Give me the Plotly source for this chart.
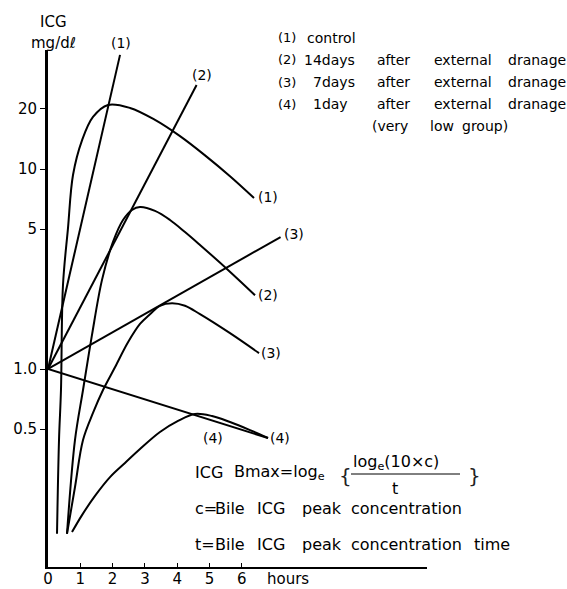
import math
import plotly.graph_objects as go

# ---------------- data (hours, ICG mg/dl) ----------------
# smooth measured curves
c1_x = [0.279, 0.341, 0.402, 0.464, 0.619, 0.774, 1.053, 1.393, 1.858, 2.539, 3.313, 4.087, 4.861, 5.635, 6.378]
c1_y = [0.150, 0.442, 0.785, 2.63, 5.06, 9.33, 13.9, 18.2, 20.9, 20.2, 17.6, 14.6, 11.7, 9.2, 7.16]

c2_x = [0.588, 0.836, 1.084, 1.362, 1.672, 2.012, 2.322, 2.601, 2.848, 3.313, 3.777, 4.241, 4.706, 5.573, 6.409]
c2_y = [0.150, 0.442, 0.785, 1.48, 2.79, 4.32, 5.56, 6.24, 6.45, 6.17, 5.56, 4.84, 4.17, 3.13, 2.34]

c3_x = [0.588, 0.836, 1.084, 1.393, 1.703, 2.074, 2.477, 2.848, 3.158, 3.467, 3.839, 4.241, 4.706, 5.635, 6.533]
c3_y = [0.150, 0.257, 0.442, 0.603, 0.785, 1.02, 1.36, 1.68, 1.88, 2.07, 2.13, 2.07, 1.88, 1.51, 1.20]

c4_x = [0.743, 1.053, 1.455, 1.920, 2.384, 2.848, 3.467, 4.025, 4.551, 5.077, 5.635, 6.254, 6.811]
c4_y = [0.153, 0.186, 0.232, 0.288, 0.339, 0.398, 0.484, 0.550, 0.596, 0.582, 0.543, 0.495, 0.452]

# straight (exponential) lines from 1.0 at time 0
l1_x = [0, 2.23]
l1_y = [1.0, 37.2]
l2_x = [0, 4.6]
l2_y = [1.0, 26.3]
l3_x = [0, 7.2]
l3_y = [1.0, 4.57]
l4_x = [0, 6.811]
l4_y = [1.0, 0.452]

x_ticks = [0, 1, 2, 3, 4, 5, 6]
x_tick_text = ["0", "1", "2", "3", "4", "5", "6"]
y_ticks = [0.5, 1.0, 5, 10, 20]
y_tick_text = ["0.5", "1.0", "5", "10", "20"]

# ---------------- layout geometry ----------------
W, H = 567, 589
L, R, T, B = 48, 140, 50, 22
PW, PH = W - L - R, H - T - B
FONT = "DejaVu Sans"


def P(xp, yp):
    """pixel position -> paper coordinates"""
    return (xp - L) / PW, (H - B - yp) / PH


fig = go.Figure()

for xs, ys, shape in [
    (c1_x, c1_y, "spline"), (c2_x, c2_y, "spline"),
    (c3_x, c3_y, "spline"), (c4_x, c4_y, "spline"),
    (l1_x, l1_y, "linear"), (l2_x, l2_y, "linear"),
    (l3_x, l3_y, "linear"), (l4_x, l4_y, "linear"),
]:
    fig.add_trace(go.Scatter(
        x=xs, y=ys, mode="lines",
        line=dict(color="black", width=2, shape=shape, smoothing=1.0),
        showlegend=False, hoverinfo="skip", cliponaxis=False,
    ))

ann = []


def txt(s, xp, yp, size=16, anchor="left", yanchor="middle", color="black"):
    px, py = P(xp, yp)
    ann.append(dict(text=s, x=px, y=py, xref="paper", yref="paper",
                    xanchor=anchor, yanchor=yanchor, showarrow=False,
                    font=dict(family=FONT, size=size, color=color)))


# curve labels (attached to line ends, in data coordinates)
def dlabel(s, x, y, xanchor, xshift=0, yshift=0, size=14):
    ann.append(dict(text=s, x=x, y=math.log10(y), xref="x", yref="y",
                    xanchor=xanchor, yanchor="middle", showarrow=False,
                    xshift=xshift, yshift=yshift,
                    font=dict(family=FONT, size=size, color="black")))


dlabel("(1)", l1_x[-1], l1_y[-1], "center", 1, 12)
dlabel("(2)", l2_x[-1], l2_y[-1], "center", 5, 10)
dlabel("(3)", l3_x[-1], l3_y[-1], "left", 1, 3)
dlabel("(4)", l4_x[-1], l4_y[-1], "left", 0, 0)
dlabel("(1)", c1_x[-1], c1_y[-1], "left", 2, 1)
dlabel("(2)", c2_x[-1], c2_y[-1], "left", 1, 0)
dlabel("(3)", c3_x[-1], c3_y[-1], "left", 0, 0)
dlabel("(4)", 5.1, 0.452, "center", 0, 0)

# y-axis title
txt("ICG", 53, 22, 15, "center")
txt("mg/d\u2113", 53, 43, 15, "center")

# legend block (top right)
LS = 14
txt("(1)", 276, 38, 13)
txt("control", 305, 38, LS)
rows = [(60, "(2)", "14days", 302), (82, "(3)", "7days", 311), (104, "(4)", "1day", 311)]
for yy, num, word, xw in rows:
    txt(num, 276, yy, 13)
    txt(word, xw, yy, LS)
    txt("after", 375, yy, LS)
    txt("external", 432, yy, LS)
    txt("dranage", 506, yy, LS)
txt("(very", 370, 126, LS)
txt("low", 428, 126, LS)
txt("group)", 460, 126, LS)

# formula block (bottom right)
FS = 16
txt("ICG", 193, 473, FS)
txt("Bmax=log<sub>e</sub>", 232, 473, FS)
txt("{", 337, 476, 20, color="#222")
txt("log<sub>e</sub>(10\u00d7c)", 351, 462, FS)
txt("t", 395, 488, FS, "center")
txt("}", 466, 476, 20, color="#222")
for yy, first in [(508, "c="), (544, "t=")]:
    txt(first, 193, yy, FS)
    txt("Bile", 213, yy, FS)
    txt("ICG", 255, yy, FS)
    txt("peak", 300, yy, FS)
    txt("concentration", 349, yy, FS)
txt("time", 472, 544, FS)

# x axis unit
txt("hours", 265, 579, 15)

shapes = [
    # fraction bar
    dict(type="line", xref="paper", yref="paper",
         x0=P(351, 0)[0], x1=P(460, 0)[0], y0=P(0, 474)[1], y1=P(0, 474)[1],
         line=dict(color="black", width=1)),
]

fig.update_layout(
    width=W, height=H,
    margin=dict(l=L, r=R, t=T, b=B, pad=0, autoexpand=False),
    paper_bgcolor="white", plot_bgcolor="white",
    showlegend=False,
    annotations=ann, shapes=shapes,
    font=dict(family=FONT, color="black"),
    xaxis=dict(range=[0, PW / 32.3], showgrid=False, zeroline=False,
               automargin=False,
               showline=True, linecolor="black", linewidth=2,
               ticks="inside", ticklen=4, tickwidth=1, tickcolor="black",
               ticklabelstandoff=-3,
               tickvals=x_ticks, ticktext=x_tick_text,
               tickfont=dict(family=FONT, size=15, color="black")),
    yaxis=dict(type="log", range=[-0.99, 1.595], showgrid=False, zeroline=False,
               automargin=False,
               showline=True, linecolor="black", linewidth=3,
               ticks="outside", ticklen=5, tickwidth=1, tickcolor="black",
               tickvals=y_ticks, ticktext=y_tick_text,
               tickfont=dict(family=FONT, size=15, color="black")),
)

fig.write_html("out.html")
